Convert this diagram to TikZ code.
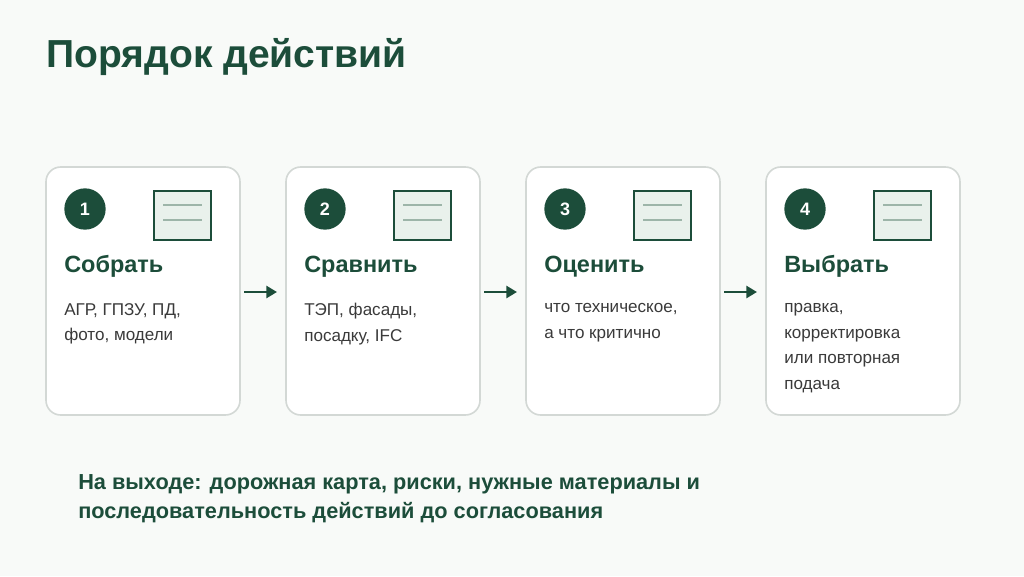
\documentclass[tikz,border=0pt]{standalone}
\usepackage{fontspec}
\setmainfont{Liberation Sans}
\usetikzlibrary{arrows.meta}
\definecolor{dg}{HTML}{1C4D3A}
\definecolor{bg}{HTML}{F8FAF8}
\definecolor{cb}{HTML}{D3D8D5}
\definecolor{ifill}{HTML}{E9F1EC}
\definecolor{iline}{HTML}{9DB5A9}
\definecolor{tx}{HTML}{3A3A3A}
\begin{document}
\begin{tikzpicture}[x=0.75pt,y=-0.75pt,
 card/.style={draw=cb,line width=1.2pt,fill=white,rounded corners=11pt},
 num/.style={circle,fill=dg,minimum size=31pt,inner sep=0pt,text=white,font=\fontsize{13.5}{15}\selectfont\bfseries},
 ttl/.style={anchor=base west,inner sep=0pt,text=dg,font=\fontsize{17.6}{19}\selectfont\bfseries},
 body/.style={anchor=north west,inner sep=0pt,text=tx,align=left,font=\fontsize{12.8}{19.3}\selectfont},
 arr/.style={draw=dg,line width=2pt,-{Triangle[length=8pt,width=9pt]}}]
\fill[bg] (0,0) rectangle (1024,576);
\useasboundingbox (0,0) rectangle (1024,576);
\node[anchor=base west,inner sep=0pt,text=dg,font=\fontsize{29.3}{32}\selectfont\bfseries] (title) at (46,67) {Порядок действий};
\foreach \i/\t/\b in {0/Собрать/{АГР, ГПЗУ, ПД,\\фото, модели},1/Сравнить/{ТЭП, фасады,\\посадку, IFC},2/Оценить/{что техническое,\\а что критично},3/Выбрать/{правка,\\корректировка\\или повторная\\подача}}{
 \pgfmathtruncatemacro\n{\i+1}
 \begin{scope}[xshift=\i*180pt]
 \draw[card] (46,167) rectangle (240,415);
 \node[num] (n\n) at (85,209) {\n};
 \draw[draw=dg,line width=1.5pt,fill=ifill] (154,191) rectangle (211,240);
 \draw[iline,line width=1.3pt] (163,205) -- (202,205) (163,220) -- (202,220);
 \node[ttl] (t\n) at (64,272) {\t};
 \node[body] (b\n) at (64,303) {\b};
 \end{scope}}
\foreach \i in {0,1,2}{
 \begin{scope}[xshift=\i*180pt]
 \coordinate (a\i) at (244,292); \coordinate (e\i) at (277,292);
 \draw[arr] (a\i) -- (e\i);
 \end{scope}}
\node[anchor=north west,inner sep=0pt,text=dg,align=left,font=\fontsize{16.3}{22}\selectfont\bfseries] (out) at (78,474) {На выходе: дорожная карта, риски, нужные материалы и\\последовательность действий до согласования};
\end{tikzpicture}
\end{document}
